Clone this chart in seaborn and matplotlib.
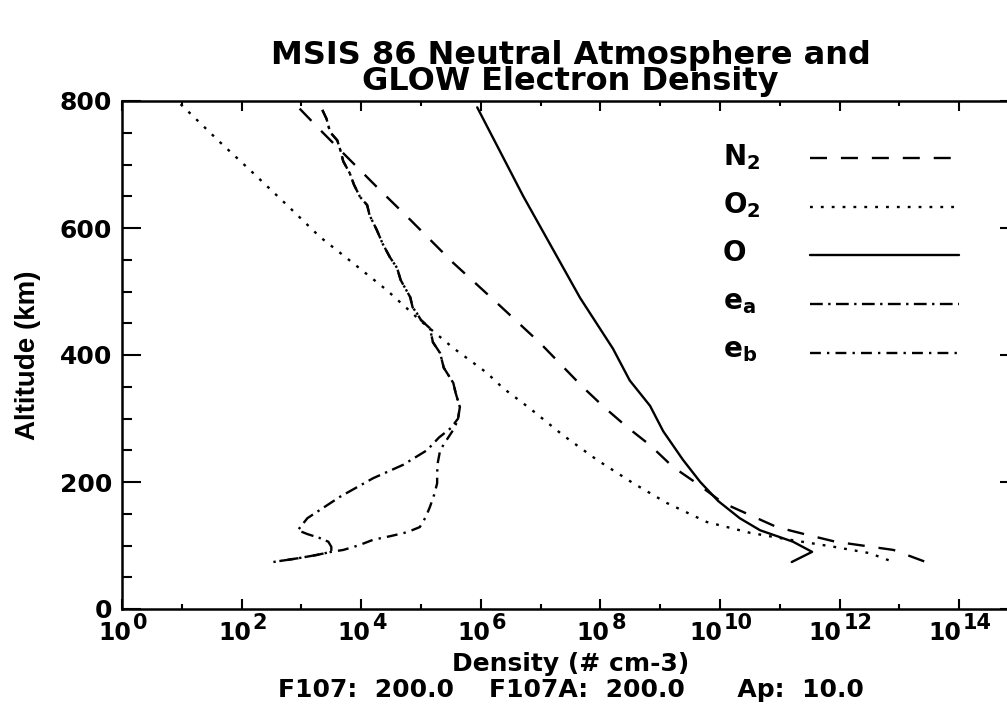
import numpy as np
import pandas as pd
import matplotlib
matplotlib.use("Agg")
import matplotlib.pyplot as plt
import seaborn as sns
from matplotlib.ticker import FixedLocator, NullFormatter, FixedFormatter

# ---------------- data ----------------
title_text = "MSIS 86 Neutral Atmosphere and\nGLOW Electron Density"
x_label = "Density (# cm-3)"
sub_label = "F107:  200.0    F107A:  200.0      Ap:  10.0"
y_label = "Altitude (km)"

species = ["N2", "O2", "O", "ea", "eb"]
legend_labels = [r"N$_2$", r"O$_2$", "O", r"e$_a$", r"e$_b$"]

# altitudes (km) and log10 density (cm^-3)
n2_alt = [788, 751, 696, 660, 613, 545, 482, 419, 350, 318, 287, 258, 224, 198,
          167, 148, 129, 117, 106, 93, 72]
n2_logd = [2.97, 3.35, 3.93, 4.31, 4.82, 5.54, 6.27, 6.99, 7.70, 8.06, 8.44, 8.83,
           9.21, 9.61, 10.05, 10.50, 10.95, 11.45, 11.93, 12.90, 13.50]

o2_alt = [795, 735, 686, 636, 586, 545, 502, 455, 411, 372, 348, 316, 274, 235,
          198, 167, 137, 120, 109, 98, 88, 74]
o2_logd = [0.98, 1.64, 2.20, 2.76, 3.31, 3.86, 4.43, 4.98, 5.54, 6.10, 6.37, 6.82,
           7.37, 7.94, 8.55, 9.11, 9.78, 10.50, 11.17, 11.90, 12.50, 12.90]

o_alt = [790, 650, 490, 410, 360, 320, 280, 235, 200, 170, 143, 124, 106, 90, 74]
o_logd = [5.94, 6.71, 7.66, 8.21, 8.49, 8.83, 9.05, 9.38, 9.67, 9.97, 10.33,
          10.67, 11.22, 11.54, 11.20]

# electron density: common upper part, then two lower branches
e_top_alt = [786, 772, 751, 738, 723, 705, 686, 668, 649, 636, 620, 597, 575, 554,
             537, 518, 491, 475, 466, 455, 442, 420, 403, 380, 356, 340, 318, 300]
e_top_logd = [3.35, 3.42, 3.48, 3.60, 3.65, 3.70, 3.81, 3.88, 3.98, 4.10, 4.14,
              4.26, 4.36, 4.48, 4.60, 4.66, 4.82, 4.86, 4.93, 5.00, 5.15, 5.20,
              5.32, 5.38, 5.54, 5.58, 5.65, 5.62]
ea_low_alt = [285, 270, 250, 227, 206, 177, 143, 124, 118, 112, 106, 98, 90, 85, 80, 74]
ea_low_logd = [5.50, 5.30, 5.10, 4.70, 4.20, 3.65, 3.10, 2.94, 3.10, 3.30, 3.45,
               3.50, 3.50, 3.25, 2.95, 2.53]
eb_low_alt = [285, 265, 250, 230, 214, 198, 180, 161, 145, 129, 121, 115, 109, 100,
              93, 90, 85, 80, 74]
eb_low_logd = [5.56, 5.42, 5.32, 5.28, 5.27, 5.27, 5.22, 5.15, 5.08, 4.98, 4.77,
               4.50, 4.20, 3.95, 3.70, 3.50, 3.25, 2.95, 2.53]

x_major_exp = [0, 2, 4, 6, 8, 10, 12, 14]
x_minor_exp = [1, 3, 5, 7, 9, 11, 13]
y_major = [0, 200, 400, 600, 800]
y_minor = list(range(0, 801, 50))

# ---------------- build long table ----------------
series = {
    "N2": (n2_alt, n2_logd),
    "O2": (o2_alt, o2_logd),
    "O": (o_alt, o_logd),
    "ea": (e_top_alt + ea_low_alt, e_top_logd + ea_low_logd),
    "eb": (e_top_alt + eb_low_alt, e_top_logd + eb_low_logd),
}
rows = []
for sp in species:
    alts, logs = series[sp]
    for a, l in zip(alts, logs):
        rows.append({"species": sp, "altitude": a, "density": 10.0 ** l})
df = pd.DataFrame(rows)

# ---------------- style ----------------
sns.set_theme(style="white")
plt.rcParams["font.family"] = ["DejaVu Sans"]
plt.rcParams["font.weight"] = "bold"
plt.rcParams["mathtext.fontset"] = "custom"
plt.rcParams["mathtext.rm"] = "DejaVu Sans:bold"
plt.rcParams["mathtext.it"] = "DejaVu Sans:bold"
plt.rcParams["mathtext.bf"] = "DejaVu Sans:bold"
plt.rcParams["mathtext.default"] = "regular"

W, H = 1007, 724
PT = 0.72  # points per pixel at 100 dpi
fig = plt.figure(figsize=(W / 100, H / 100), dpi=100)
fig.patch.set_facecolor("white")
ax_l, ax_r, ax_t, ax_b = 122, 1019, 101, 609
ax = fig.add_axes([ax_l / W, 1 - ax_b / H, (ax_r - ax_l) / W, (ax_b - ax_t) / H])

palette = {sp: "black" for sp in species}
dashes = {
    "N2": (7.2, 5.9),
    "O2": (1.2, 3.4),
    "O": "",
    "ea": (5.4, 2.3, 1.0, 2.3),
    "eb": (4.6, 2.6, 1.0, 2.6),
}
sns.lineplot(data=df, x="density", y="altitude", hue="species", style="species",
             hue_order=species, style_order=species, palette=palette, dashes=dashes,
             sort=False, estimator=None, legend=False, linewidth=1.7, ax=ax)

ax.set_xscale("log")
ax.set_xlim(1, 1e15)
ax.set_ylim(0, 800)
ax.set_xlabel("")
ax.set_ylabel("")

ax.xaxis.set_major_locator(FixedLocator([10.0 ** e for e in x_major_exp]))
ax.xaxis.set_minor_locator(FixedLocator([10.0 ** e for e in x_minor_exp]))
ax.xaxis.set_major_formatter(NullFormatter())
ax.xaxis.set_minor_formatter(NullFormatter())
ax.yaxis.set_major_locator(FixedLocator(y_major))
ax.yaxis.set_minor_locator(FixedLocator(y_minor))
ax.yaxis.set_major_formatter(FixedFormatter([str(v) for v in y_major]))

ax.tick_params(axis="x", which="major", direction="in", length=7.2, width=1.5,
               bottom=True, top=True, color="black")
ax.tick_params(axis="x", which="minor", direction="in", length=3.6, width=1.5,
               bottom=True, top=True, color="black")
ax.tick_params(axis="y", which="major", direction="in", length=13.7, width=1.5,
               left=True, right=True, color="black", labelsize=18, pad=7,
               labelcolor="black")
ax.tick_params(axis="y", which="minor", direction="in", length=7.0, width=1.5,
               left=True, right=True, color="black")
for lab in ax.get_yticklabels():
    lab.set_fontweight("bold")
for s in ax.spines.values():
    s.set_visible(True)
    s.set_color("black")
    s.set_linewidth(1.8)
ax.grid(False)

# x tick labels: "10" with a large raised exponent
base_fs, exp_fs = 17, 15
digit_w = 0.696  # em width of a digit in DejaVu Sans Bold
for e in x_major_exp:
    s = str(e)
    w_base = 2 * digit_w * base_fs / PT
    w_exp = len(s) * digit_w * exp_fs / PT
    d = (w_base - 2 - w_exp) / 2 + 1
    ax.annotate("10", xy=(10.0 ** e, 0), xycoords=("data", "axes fraction"),
                xytext=(d * PT, -12 * PT), textcoords="offset points",
                ha="right", va="top", fontsize=base_fs, fontweight="bold",
                color="black", annotation_clip=False)
    ax.annotate(s, xy=(10.0 ** e, 0), xycoords=("data", "axes fraction"),
                xytext=((d + 2) * PT, -4 * PT), textcoords="offset points",
                ha="left", va="top", fontsize=exp_fs, fontweight="bold",
                color="black", annotation_clip=False)

# titles and labels
cx = (ax_l + ax_r) / 2 / W
fig.text(cx, 1 - 90 / H, title_text, ha="center", va="baseline", fontsize=23,
         fontweight="bold", color="black", linespacing=0.78, multialignment="center")
fig.text(cx, 1 - 664 / H, x_label, ha="center", va="center", fontsize=18,
         fontweight="bold", color="black")
fig.text(cx, 1 - 690 / H, sub_label, ha="center", va="center", fontsize=18,
         fontweight="bold", color="black")
fig.text(28 / W, 1 - 355 / H, y_label, ha="center", va="center", rotation=90,
         fontsize=20, fontweight="bold", color="black", family="Liberation Sans")

# legend: line samples drawn by the legend, labels placed to their left
handles = ax.get_lines()[:len(species)]
ax.legend(handles=handles, labels=[" "] * len(species), loc="upper left",
          bbox_to_anchor=(810 / W, 1 - 146 / H), bbox_transform=fig.transFigure,
          frameon=False, markerfirst=True, handlelength=5.36, handletextpad=0.0,
          labelspacing=0.74, borderpad=0, borderaxespad=0,
          prop={"size": 20, "weight": "bold"})
for i, lab in enumerate(legend_labels):
    fig.text(723 / W, 1 - (165 + 48 * i) / H, lab, ha="left", va="baseline",
             fontsize=20, fontweight="bold", color="black")

fig.savefig("out.png", dpi=100, facecolor="white")
